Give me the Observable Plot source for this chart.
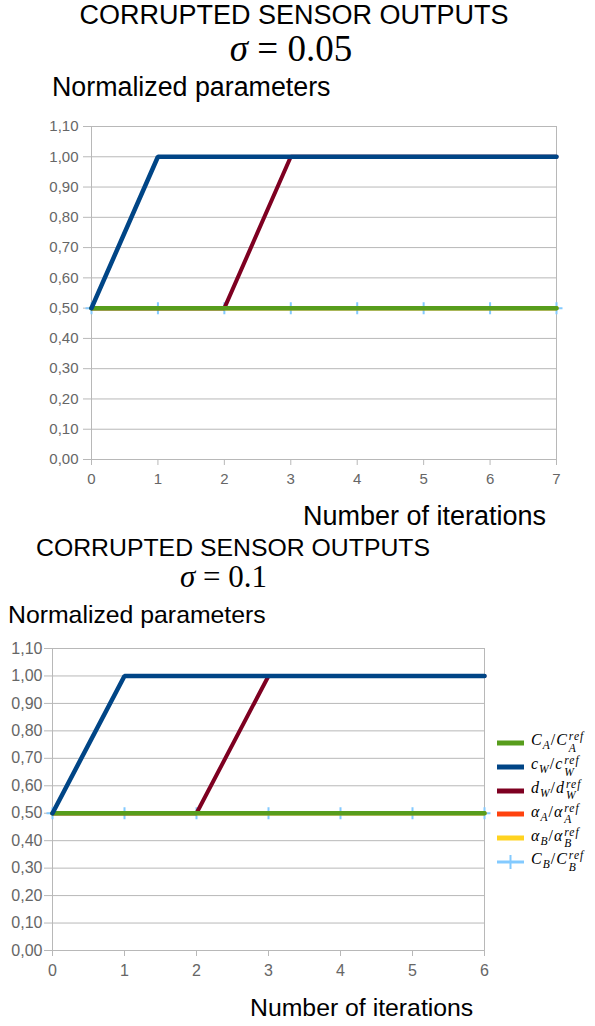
<!DOCTYPE html>
<html>
<head>
<meta charset="utf-8">
<script src="https://cdn.jsdelivr.net/npm/d3@7"></script>
<script src="https://cdn.jsdelivr.net/npm/@observablehq/plot@0.6"></script>
<style>
  html, body { margin: 0; padding: 0; background: #fff; }
  #page { position: relative; width: 595px; height: 1026px; overflow: hidden; font-family: "Liberation Sans", Arial, sans-serif; color: #000; }
  .abs { position: absolute; white-space: nowrap; line-height: 1; }
  .head { position: absolute; text-align: center; white-space: nowrap; }
  .head .t { line-height: 1; }
  .head .s { font-family: "Liberation Serif", "DejaVu Serif", serif; line-height: 0.8; position: relative; }
  .head .s i { font-style: italic; }
  .legend { position: absolute; left: 497px; top: 731px; font-family: "Liberation Serif", "DejaVu Serif", serif; font-size: 16px; letter-spacing: 1px; }
  .legend .row { display: flex; align-items: center; height: 23.8px; }
  .legend .sw { width: 27px; height: 24px; margin-right: 7px; }
  .m i { font-style: italic; }
  .m .sb { font-size: 0.72em; font-style: italic; vertical-align: -0.35em; }
  .m .ss { display: inline-flex; flex-direction: column; font-size: 0.72em; font-style: italic; line-height: 1; vertical-align: 0.45em; margin-left: 1px; }
  svg { position: absolute; overflow: visible; }
</style>
</head>
<body>
<div id="page"></div>
<script>
// Series: normalized parameter values per iteration
const iterationsA = [0, 1, 2, 3, 4, 5, 6, 7];
const CA_A    = [0.5, 0.5, 0.5, 0.5, 0.5, 0.5, 0.5, 0.5];
const cW_A    = [0.5, 1.0, 1.0, 1.0, 1.0, 1.0, 1.0, 1.0];
const dW_A    = [0.5, 0.5, 0.5, 1.0, 1.0, 1.0, 1.0, 1.0];
const alphaA_A = [0.5, 0.5, 0.5, 0.5, 0.5, 0.5, 0.5, 0.5];
const alphaB_A = [0.5, 0.5, 0.5, 0.5, 0.5, 0.5, 0.5, 0.5];
const CB_A    = [0.5, 0.5, 0.5, 0.5, 0.5, 0.5, 0.5, 0.5];

const iterationsB = [0, 1, 2, 3, 4, 5, 6];
const CA_B    = [0.5, 0.5, 0.5, 0.5, 0.5, 0.5, 0.5];
const cW_B    = [0.5, 1.0, 1.0, 1.0, 1.0, 1.0, 1.0];
const dW_B    = [0.5, 0.5, 0.5, 1.0, 1.0, 1.0, 1.0];
const alphaA_B = [0.5, 0.5, 0.5, 0.5, 0.5, 0.5, 0.5];
const alphaB_B = [0.5, 0.5, 0.5, 0.5, 0.5, 0.5, 0.5];
const CB_B    = [0.5, 0.5, 0.5, 0.5, 0.5, 0.5, 0.5];

const yTicks = [0, 0.1, 0.2, 0.3, 0.4, 0.5, 0.6, 0.7, 0.8, 0.9, 1.0, 1.1];

const seriesNames = ["CB", "alphaA", "alphaB", "dW", "CA", "cW"];
const colors = { CA: "#579d1c", cW: "#004586", dW: "#7e0021", alphaA: "#ff420e", alphaB: "#ffd320", CB: "#83caff" };

const fmt = v => d3.format(".2f")(v).replace(".", ",");

// small "+" marker drawn with strokes
const plusMark = {
  draw(ctx, size) {
    const r = Math.sqrt(size / Math.PI);
    ctx.moveTo(0, -r); ctx.lineTo(0, r);
    ctx.moveTo(-r, 0); ctx.lineTo(r, 0);
  }
};

function buildRows(iters, arrays) {
  const rows = [];
  for (const name of seriesNames) {
    arrays[name].forEach((v, i) => rows.push({ series: name, x: iters[i], y: v }));
  }
  return rows;
}

function chart({ iters, arrays, width, height, mLeft, mRight, mTop, mBottom, fontSize, padY }) {
  const rows = buildRows(iters, arrays);
  const xMax = iters[iters.length - 1];
  const of = s => rows.filter(d => d.series === s);
  const widthOf = { CB: 2, alphaA: 4, alphaB: 4, CA: 4.5, dW: 4, cW: 4.5 };
  return Plot.plot({
    width, height,
    marginLeft: mLeft, marginRight: mRight, marginTop: mTop, marginBottom: mBottom,
    style: { fontFamily: "Liberation Sans, Arial, sans-serif", fontSize: fontSize + "px", color: "#666", background: "none" },
    x: { domain: [0, xMax] },
    y: { domain: [0, 1.1] },
    marks: [
      Plot.gridY(yTicks, { stroke: "#b8b8b8", strokeOpacity: 1 }),
      Plot.ruleX([0, xMax], { stroke: "#b8b8b8" }),
      Plot.axisY(yTicks, { tickFormat: fmt, tickSize: 8, tickPadding: padY, stroke: "#b8b8b8", fill: "#666", label: null }),
      Plot.axisX(iters, { tickFormat: d3.format("d"), tickSize: 6, tickPadding: 8, stroke: "#b8b8b8", fill: "#666", label: null }),
      Plot.ruleY([0], { stroke: "#b8b8b8" }),
      Plot.line(of("CB"), { x: "x", y: "y", stroke: colors.CB, strokeWidth: widthOf.CB }),
      Plot.dot(of("CB"), { x: "x", y: "y", symbol: plusMark, r: 6, stroke: colors.CB, strokeWidth: 2, fill: "none" }),
      ...["alphaA", "alphaB", "dW", "CA", "cW"].map(s =>
        Plot.line(of(s), { x: "x", y: "y", stroke: colors[s], strokeWidth: widthOf[s], strokeLinejoin: "miter" }))
    ]
  });
}

const page = document.getElementById("page");
function addText(html, css, cls = "abs") {
  const d = document.createElement("div");
  d.className = cls;
  d.innerHTML = html;
  Object.assign(d.style, css);
  page.appendChild(d);
  return d;
}

// panel heading: title line with the noise level underneath
function addHeading({ left, width, top, titleSize, sigma, sigmaSize, sigmaShift, gap }) {
  const html =
    `<div class="t" style="font-size:${titleSize}px">CORRUPTED SENSOR OUTPUTS</div>` +
    `<div class="s" style="font-size:${sigmaSize}px;left:${sigmaShift}px;margin-top:${gap}px"><i>σ</i> = ${sigma}</div>`;
  addText(html, { left: left + "px", width: width + "px", top: top + "px" }, "head");
}

// ---- first panel: sigma = 0.05 ----
addHeading({ left: 44, width: 500, top: 2, titleSize: 27, sigma: "0.05", sigmaSize: 37, sigmaShift: -3, gap: 5 });
addText("Normalized parameters", { left: "52px", top: "74px", fontSize: "26.8px" });

const c1 = chart({
  iters: iterationsA,
  arrays: { CA: CA_A, cW: cW_A, dW: dW_A, alphaA: alphaA_A, alphaB: alphaB_A, CB: CB_A },
  width: 595, height: 389, mLeft: 91, mRight: 39, mTop: 16, mBottom: 40, fontSize: 15, padY: 5
});
c1.style.left = "0px"; c1.style.top = "110px";
page.appendChild(c1);
addText("Number of iterations", { left: "303px", top: "503px", fontSize: "27px" });

// ---- second panel: sigma = 0.1 ----
addHeading({ left: 33, width: 400, top: 536, titleSize: 24.8, sigma: "0.1", sigmaSize: 31, sigmaShift: -9.5, gap: 4 });
addText("Normalized parameters", { left: "8px", top: "603px", fontSize: "24.8px" });

const c2 = chart({
  iters: iterationsB,
  arrays: { CA: CA_B, cW: cW_B, dW: dW_B, alphaA: alphaA_B, alphaB: alphaB_B, CB: CB_B },
  width: 595, height: 358, mLeft: 52, mRight: 111, mTop: 16, mBottom: 40, fontSize: 16, padY: 2
});
c2.style.left = "0px"; c2.style.top = "632px";
page.appendChild(c2);
addText("Number of iterations", { left: "250px", top: "996px", fontSize: "24.8px" });

// ---- legend ----
const legendItems = [
  { key: "CA", label: '<i>C</i><span class="sb">A</span>/<i>C</i><span class="ss"><span>ref</span><span>A</span></span>' },
  { key: "cW", label: '<i>c</i><span class="sb">W</span>/<i>c</i><span class="ss"><span>ref</span><span>W</span></span>' },
  { key: "dW", label: '<i>d</i><span class="sb">W</span>/<i>d</i><span class="ss"><span>ref</span><span>W</span></span>' },
  { key: "alphaA", label: '<i>α</i><span class="sb">A</span>/<i>α</i><span class="ss"><span>ref</span><span>A</span></span>' },
  { key: "alphaB", label: '<i>α</i><span class="sb">B</span>/<i>α</i><span class="ss"><span>ref</span><span>B</span></span>' },
  { key: "CB", label: '<i>C</i><span class="sb">B</span>/<i>C</i><span class="ss"><span>ref</span><span>B</span></span>' }
];
const legend = document.createElement("div");
legend.className = "legend";
for (const it of legendItems) {
  const row = document.createElement("div");
  row.className = "row";
  const marker = it.key === "CB"
    ? `<line x1="0" y1="12" x2="27" y2="12" stroke="${colors.CB}" stroke-width="3"/><line x1="13.5" y1="5" x2="13.5" y2="19" stroke="${colors.CB}" stroke-width="2"/>`
    : `<line x1="0" y1="12" x2="27" y2="12" stroke="${colors[it.key]}" stroke-width="5"/>`;
  row.innerHTML = `<svg class="sw" width="27" height="24" style="position:static">${marker}</svg><span class="m">${it.label}</span>`;
  legend.appendChild(row);
}
page.appendChild(legend);
</script>
</body>
</html>
